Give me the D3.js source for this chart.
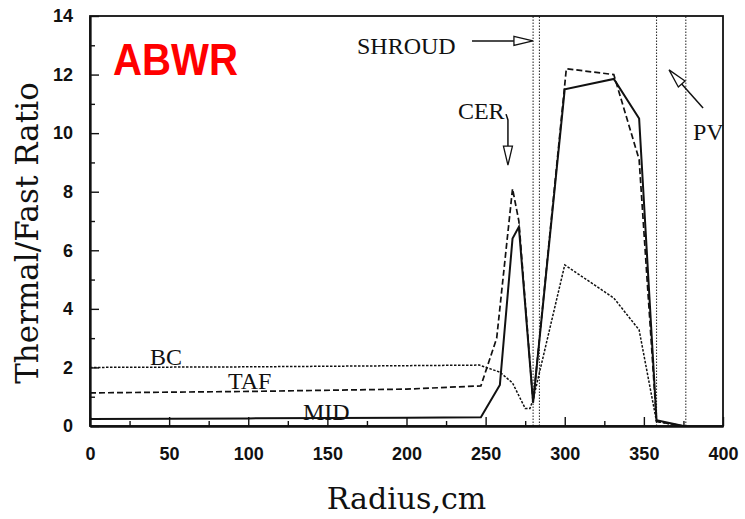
<!DOCTYPE html>
<html>
<head>
<meta charset="utf-8">
<script src="https://cdn.jsdelivr.net/npm/d3@7"></script>
<style>
  body { margin: 0; background: #fff; }
  svg { display: block; }
</style>
</head>
<body>
<div id="vis"></div>
<script>
// radius (cm) and thermal/fast ratio
var bcR  = [0, 100, 200, 246, 259, 267, 275, 278, 280, 300, 331, 347, 358, 375];
var bcV  = [2.0, 2.02, 2.06, 2.08, 1.84, 1.47, 0.6, 0.6, 0.9, 5.5, 4.37, 3.28, 0.15, 0];

var tafR = [0, 100, 200, 247, 257, 267, 271, 280, 301, 331, 347, 358, 375];
var tafV = [1.13, 1.18, 1.26, 1.37, 3.0, 8.1, 7.0, 0.8, 12.2, 12.0, 9.1, 0.15, 0];

var midR = [0, 100, 200, 247, 259, 267, 271, 280, 300, 331, 347, 358, 375];
var midV = [0.24, 0.26, 0.28, 0.3, 1.4, 6.4, 6.8, 0.8, 11.5, 11.85, 10.5, 0.2, 0];

// region boundaries (vertical dotted lines)
var boundaries = [280, 284, 358, 376.5];

var xTicks = [0, 50, 100, 150, 200, 250, 300, 350, 400];
var yTicks = [0, 2, 4, 6, 8, 10, 12, 14];

var width = 745, height = 519;
var margin = {top: 16, right: 22, bottom: 93, left: 90};

var svg = d3.select("#vis").append("svg")
  .attr("width", width)
  .attr("height", height);

var x = d3.scaleLinear().domain([0, 400]).range([margin.left, width - margin.right]);
var y = d3.scaleLinear().domain([0, 14]).range([height - margin.bottom, margin.top]);

var serif = "'Liberation Serif', 'Times New Roman', serif";
var titleFont = "'DejaVu Serif', serif";
var sans = "'Liberation Sans', Arial, sans-serif";

// boundaries
svg.append("g").selectAll("line")
  .data(boundaries)
  .enter().append("line")
    .attr("x1", function(d) { return x(d); })
    .attr("x2", function(d) { return x(d); })
    .attr("y1", y(0))
    .attr("y2", y(14))
    .attr("stroke", "#333")
    .attr("stroke-width", 1.1)
    .attr("stroke-dasharray", "1.5,1.5");

// series
var line = d3.line()
  .x(function(d) { return x(d[0]); })
  .y(function(d) { return y(d[1]); });

function pairs(r, v) { return r.map(function(d, i) { return [d, v[i]]; }); }

svg.append("path")
  .datum(pairs(bcR, bcV))
  .attr("d", line)
  .attr("fill", "none")
  .attr("stroke", "#111")
  .attr("stroke-width", 1.5)
  .attr("stroke-dasharray", "2.5,1.5");

svg.append("path")
  .datum(pairs(tafR, tafV))
  .attr("d", line)
  .attr("fill", "none")
  .attr("stroke", "#111")
  .attr("stroke-width", 1.7)
  .attr("stroke-dasharray", "6,3");

svg.append("path")
  .datum(pairs(midR, midV))
  .attr("d", line)
  .attr("fill", "none")
  .attr("stroke", "#111")
  .attr("stroke-width", 2);

// box
svg.append("rect")
  .attr("x", x(0))
  .attr("y", y(14))
  .attr("width", x(400) - x(0))
  .attr("height", y(0) - y(14))
  .attr("fill", "none")
  .attr("stroke", "#111")
  .attr("stroke-width", 1.8);

// x axis (ticks point inward)
svg.append("g")
  .attr("transform", "translate(0," + y(0) + ")")
  .call(d3.axisBottom(x).tickValues(xTicks).tickSize(-9).tickSizeOuter(0).tickPadding(21));

svg.append("g")
  .attr("transform", "translate(0," + y(0) + ")")
  .call(d3.axisBottom(x).tickValues(d3.range(25, 400, 50)).tickSize(-5).tickFormat("").tickSizeOuter(0));

// y axis
svg.append("g")
  .attr("transform", "translate(" + x(0) + ",0)")
  .call(d3.axisLeft(y).tickValues(yTicks).tickSize(-9).tickSizeOuter(0).tickPadding(17));

svg.append("g")
  .attr("transform", "translate(" + x(0) + ",0)")
  .call(d3.axisLeft(y).tickValues(d3.range(1, 14, 2)).tickSize(-5).tickFormat("").tickSizeOuter(0));

svg.selectAll(".domain").attr("stroke", "#111").attr("stroke-width", 1.8);
svg.selectAll(".tick line").attr("stroke", "#111").attr("stroke-width", 1.4);
svg.selectAll(".tick text")
  .attr("font-family", sans)
  .attr("font-weight", "bold")
  .attr("font-size", "18px")
  .attr("fill", "#111");

// axis titles
svg.append("text")
  .attr("x", (x(0) + x(400)) / 2)
  .attr("y", 509)
  .attr("text-anchor", "middle")
  .attr("font-family", titleFont)
  .attr("font-size", "30px")
  .attr("fill", "#111")
  .text("Radius,cm");

svg.append("text")
  .attr("transform", "translate(38," + 233 + ") rotate(-90)")
  .attr("text-anchor", "middle")
  .attr("font-family", titleFont)
  .attr("font-size", "31px")
  .attr("fill", "#111")
  .text("Thermal/Fast Ratio");

// series labels
var labels = [
  {text: "BC", r: 37.9, v: 2.08},
  {text: "TAF", r: 87.2, v: 1.26},
  {text: "MID", r: 134.6, v: 0.2},
  {text: "SHROUD", r: 168.7, v: 12.7},
  {text: "CER", r: 232.5, v: 10.48},
  {text: "PV", r: 381, v: 9.77}
];

svg.append("g").selectAll("text")
  .data(labels)
  .enter().append("text")
    .attr("x", function(d) { return x(d.r); })
    .attr("y", function(d) { return y(d.v); })
    .attr("font-family", serif)
    .attr("font-size", "24px")
    .attr("fill", "#111")
    .text(function(d) { return d.text; });

// arrows with hollow heads
function arrow(pts) {
  var p = pts.map(function(d) { return [x(d[0]), y(d[1])]; });
  var a = p[p.length - 2], b = p[p.length - 1];
  var ang = Math.atan2(b[1] - a[1], b[0] - a[0]);
  var len = 19, half = 4.5;
  var base = [b[0] - len * Math.cos(ang), b[1] - len * Math.sin(ang)];
  var shaft = p.slice(0, -1).concat([base]);
  svg.append("path")
    .attr("d", d3.line()(shaft))
    .attr("fill", "none")
    .attr("stroke", "#111")
    .attr("stroke-width", 1.5);
  var left = [base[0] + half * Math.sin(ang), base[1] - half * Math.cos(ang)];
  var right = [base[0] - half * Math.sin(ang), base[1] + half * Math.cos(ang)];
  svg.append("path")
    .attr("d", "M" + left + "L" + b + "L" + right + "Z")
    .attr("fill", "#fff")
    .attr("stroke", "#111")
    .attr("stroke-width", 1.3);
}

arrow([[241.4, 13.15], [279.9, 13.15]]);
arrow([[262.9, 10.65], [264.1, 10.45], [264.1, 8.91]]);
arrow([[387.4, 10.86], [365.9, 12.16]]);

// reactor tag
svg.append("text")
  .attr("x", x(14.5))
  .attr("y", y(11.99))
  .attr("font-family", sans)
  .attr("font-weight", "bold")
  .attr("font-size", "44px")
  .attr("fill", "#ff0000")
  .attr("textLength", 125)
  .attr("lengthAdjust", "spacingAndGlyphs")
  .text("ABWR");
</script>
</body>
</html>
